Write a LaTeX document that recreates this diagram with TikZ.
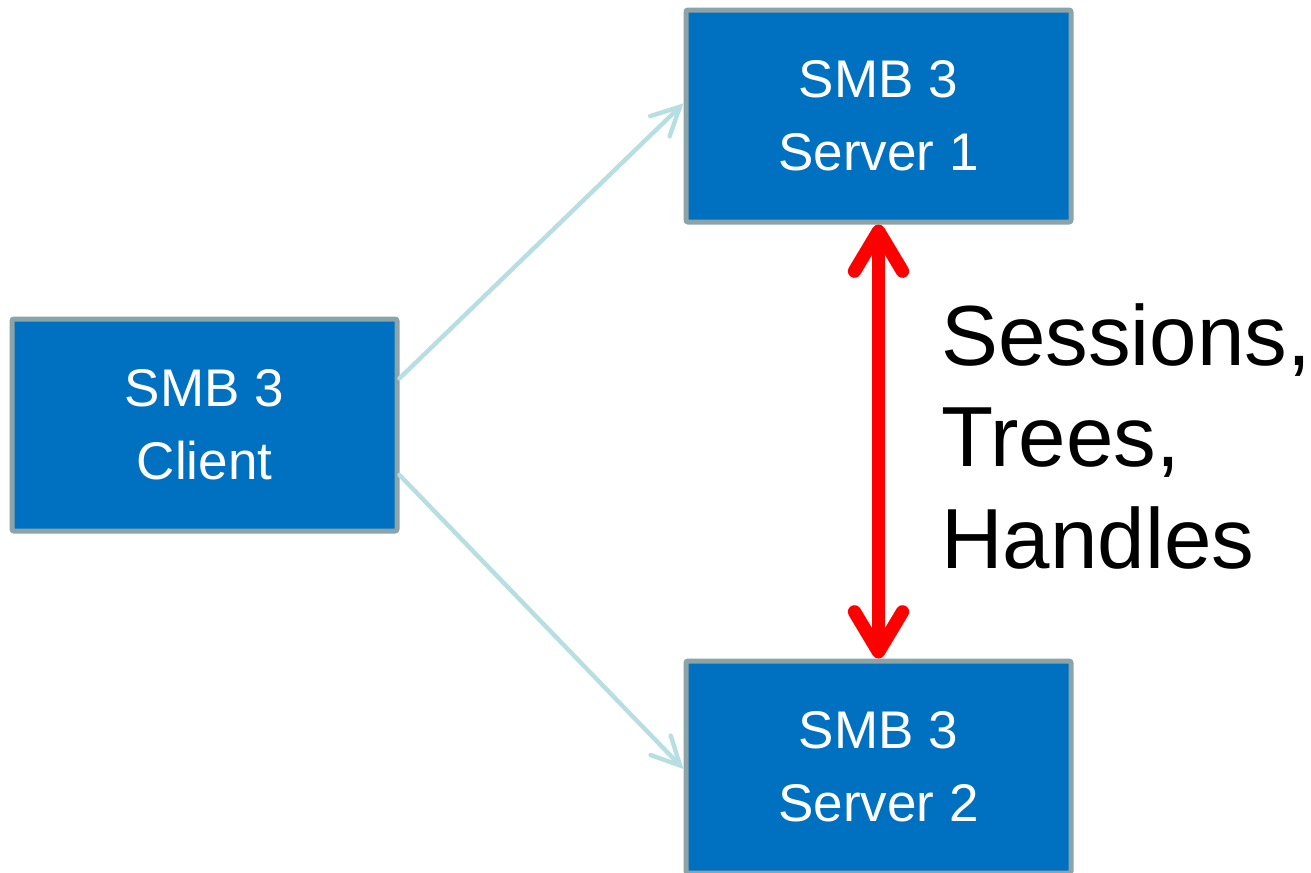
\documentclass[tikz,border=0pt]{standalone}
\usepackage{fontspec}
\setmainfont{Liberation Sans}
\usetikzlibrary{arrows.meta}
\definecolor{boxblue}{RGB}{0,112,192}
\definecolor{boxedge}{RGB}{140,164,168}
\definecolor{linkcyan}{RGB}{183,222,225}
\definecolor{pureRed}{RGB}{255,0,0}
\tikzset{
  smbbox/.style={draw=boxedge, fill=boxblue, line width=3.75pt, rounded corners=1.5pt,
    minimum width=288.75pt, minimum height=159pt, inner sep=0pt, text=white, align=center,
    font=\fontsize{39.75}{55}\selectfont},
  link/.style={draw=linkcyan, line width=3.3pt, line cap=round,
    -{Straight Barb[length=21pt, width=21pt, line cap=round]}},
  shared/.style={draw=pureRed, line width=10pt,
    {Straight Barb[length=30pt, width=36pt, line cap=round, line join=round]}-{Straight Barb[length=30pt, width=36pt, line cap=round, line join=round]}},
  biglabel/.style={font=\fontsize{64}{76}\selectfont, align=left, inner sep=0pt}
}
\begin{document}
\begin{tikzpicture}[x=0.75pt, y=-0.75pt]
\useasboundingbox (0,0) rectangle (1311,872);
\node[smbbox] (client) at (204.5,425) {SMB 3\\Client};
\node[smbbox] (srv1) at (878.5,116) {SMB 3\\Server 1};
\node[smbbox] (srv2) at (878.5,767) {SMB 3\\Server 2};
\draw[link] ([yshift=35pt]client.east) -- ([yshift=9.5pt]srv1.west);
\draw[link] ([yshift=-37.5pt]client.east) -- ([yshift=-1.5pt]srv2.west);
\draw[shared] (srv1.south) -- (srv2.north);
\node[biglabel, anchor=base west] (lbl) at (941,568) {Sessions,\\Trees,\\Handles};
\end{tikzpicture}
\end{document}
